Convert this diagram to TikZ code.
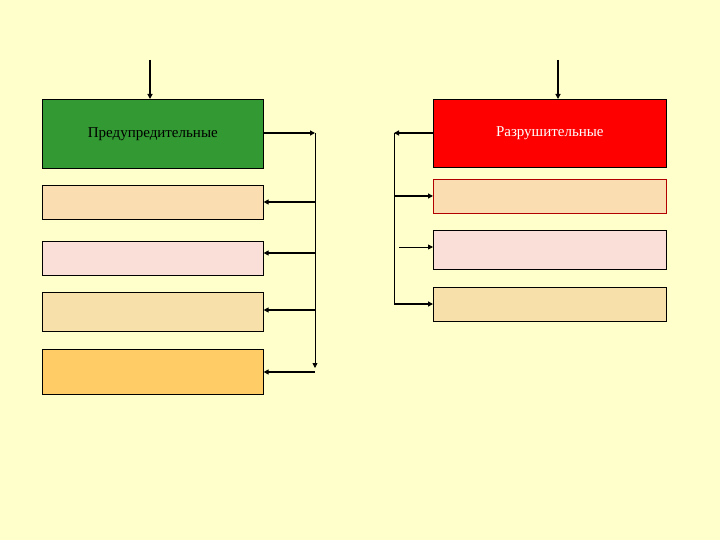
\documentclass[tikz,border=0pt]{standalone}
\usepackage{fontspec}
\setmainfont{Liberation Serif}
\usetikzlibrary{arrows.meta}
\definecolor{bg}{HTML}{FFFFCC}
\definecolor{gbox}{HTML}{339933}
\definecolor{rbox}{HTML}{FF0000}
\definecolor{peach}{HTML}{FADDB0}
\definecolor{pinkb}{HTML}{FADFD8}
\definecolor{wheat}{HTML}{F8E0AA}
\definecolor{orng}{HTML}{FFCC66}
\begin{document}
\begin{tikzpicture}[x=1pt,y=-1pt,
 box/.style={draw=black,line width=0.6pt,anchor=north west,inner sep=0pt},
 arr/.style={-{Triangle[length=5pt,width=5pt]},line width=1.2pt},
 thin/.style={line width=0.8pt}]
\fill[bg] (0,0) rectangle (720,540);
\useasboundingbox (0,0) rectangle (720,540);
\node[box,fill=gbox,minimum width=221pt,minimum height=69pt,font=\fontsize{15}{18}\selectfont] (g) at (42,99) {Предупредительные};
\node[box,fill=peach,minimum width=221pt,minimum height=34pt] (l1) at (42,185) {};
\node[box,fill=pinkb,minimum width=221pt,minimum height=34pt] (l2) at (42,241) {};
\node[box,fill=wheat,minimum width=221pt,minimum height=39pt] (l3) at (42,292) {};
\node[box,fill=orng,minimum width=221pt,minimum height=45pt] (l4) at (42,349) {};
\node[box,fill=rbox,minimum width=233pt,minimum height=68pt,text=white,font=\fontsize{15}{18}\selectfont] (r) at (433,99) {Разрушительные};
\node[box,draw=rbox!70!black,fill=peach,minimum width=233pt,minimum height=34pt] (r1) at (433,179) {};
\node[box,fill=pinkb,minimum width=233pt,minimum height=39pt] (r2) at (433,230) {};
\node[box,fill=wheat,minimum width=233pt,minimum height=34pt] (r3) at (433,287) {};
\coordinate (ta) at (150,60); \coordinate (tb) at (558,60);
\draw[arr] (ta) -- (g.north -| ta);
\draw[arr] (tb) -- (r.north -| tb);
% left
\coordinate (lv0) at (315,133); \coordinate (lv1) at (315,368);
\draw[arr] (g.east |- lv0) -- (lv0);
\draw[thin,-{Triangle[length=5pt,width=5pt]}] (lv0) -- (lv1);
\foreach \n/\y in {l1/202,l2/253,l3/310,l4/372}{
 \coordinate (c\n) at (315,\y);
 \draw[arr] (c\n) -- (\n.east |- c\n);}
% right
\coordinate (rv0) at (394,133); \coordinate (rv1) at (394,304);
\draw[arr] (r.west |- rv0) -- (rv0);
\draw[thin] (rv0) -- (rv1);
\coordinate (cr1) at (394,196); \coordinate (cr2) at (399,247); \coordinate (cr3) at (394,304);
\draw[arr] (cr1) -- (r1.west |- cr1);
\draw[thin,-{Triangle[length=5pt,width=5pt]}] (cr2) -- (r2.west |- cr2);
\draw[arr] (cr3) -- (r3.west |- cr3);
\end{tikzpicture}
\end{document}
